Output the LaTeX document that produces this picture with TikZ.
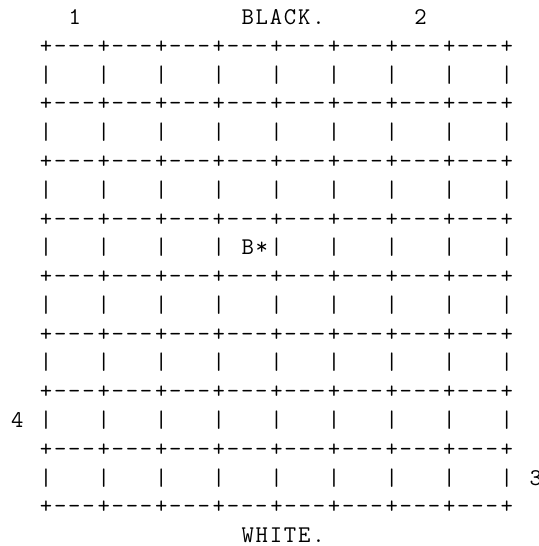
\documentclass[tikz,border=0pt]{standalone}
\usepackage{fontspec}
\setmonofont[LetterSpace=7.5]{Latin Modern Mono}
\usetikzlibrary{positioning}

\tikzset{
  ch/.style={font=\ttfamily\fontsize{12}{14.4}\selectfont, inner sep=0pt, anchor=base west}
}
% column c, line k of the text grid
\newcommand{\cell}[2]{({10.7+14.4*(#1)},{521.5-28.79*(#2)})}

\begin{document}
\begin{tikzpicture}[x=0.5pt,y=0.5pt]
\useasboundingbox (0,0) rectangle (539,546);

\node[ch] (one) at \cell{4}{0} {1};
\node[ch] (black) at \cell{16}{0} {BLACK.};
\node[ch] (two) at \cell{28}{0} {2};

% rules between the ranks
\foreach \k in {1,3,...,17} {
  \foreach \c in {2,6,...,30}
    \node[ch] (rule\k-\c) at \cell{\c}{\k} {+---};
  \node[ch] (rule\k-34) at \cell{34}{\k} {+};
}

% bars of the files
\foreach \k in {2,4,...,16}
  \foreach \c in {2,6,...,34}
    \node[ch] (bar\k-\c) at \cell{\c}{\k} {|};

\node[ch] (bstar) at \cell{16}{8} {B*};
\node[ch] (four) at \cell{0}{14} {4};
\node[ch] (three) at \cell{36}{16} {3};
\node[ch] (white) at \cell{16}{18} {WHITE.};
\end{tikzpicture}
\end{document}
